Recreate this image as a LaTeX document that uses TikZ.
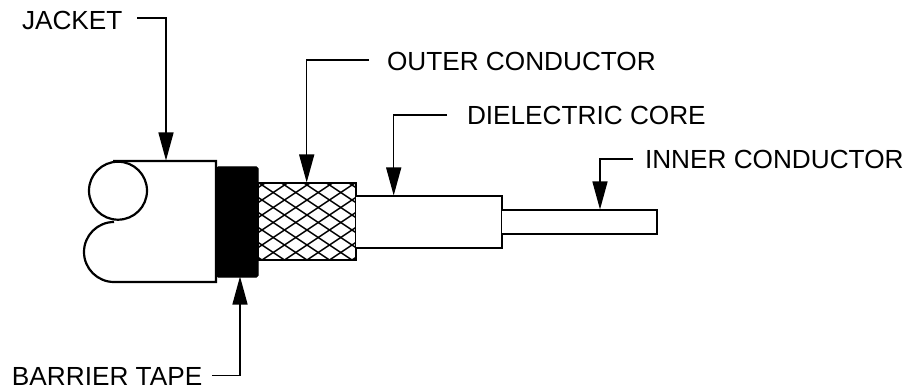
\documentclass[tikz,border=0pt]{standalone}
\usepackage{fontspec}
\setmainfont{Liberation Sans}
\usetikzlibrary{arrows.meta}
\tikzset{
  part/.style={draw=black,line width=2.2pt,line join=miter,fill=white},
  tape/.style={draw=black,fill=black,line width=1pt,rounded corners=1.5pt},
  braid/.style={draw=black,line width=1.5pt},
  leader/.style={draw=black,line width=1.4pt,-{Triangle[length=28pt,width=15pt]},shorten >=-0.5pt},
  lbl/.style={anchor=base west,inner sep=0pt,outer sep=0pt,font=\fontsize{26.2pt}{28pt}\selectfont,text=black},
}
\begin{document}
\begin{tikzpicture}[x=1pt,y=-1pt]
\useasboundingbox (0,0) rectangle (905,390);
% jacket
\draw[part] (114,222) arc[start angle=270,end angle=90,radius=30] -- (216,282) -- (216,161) -- (113,161);
\draw[part] (118,190.7) circle[radius=29];
% tape
\draw[tape] (216.5,167) rectangle (258,277);
% braid
\begin{scope}
\clip (258,183) rectangle (356,260);
\foreach \k in {-12,...,12}{
  \draw[braid] (258,{185+(2/3)*(258-307)+15*\k}) -- (356,{185+(2/3)*(356-307)+15*\k});
  \draw[braid] (258,{185-(2/3)*(258-307)+15*\k}) -- (356,{185-(2/3)*(356-307)+15*\k});
}
\end{scope}
\draw[part,fill=none] (258,183) rectangle (356,260);
% dielectric and inner
\draw[part] (356,196) -- (502,196) -- (502,248) -- (356,248);
\draw[part] (502,210) -- (657,210) -- (657,234) -- (502,234);
% labels
\node[lbl] (jacket) at (22,29.5) {JACKET};
\node[lbl] (outer) at (387,70.5) {OUTER CONDUCTOR};
\node[lbl] (diel) at (467,125) {DIELECTRIC CORE};
\node[lbl] (inner) at (645,168.3) {INNER CONDUCTOR};
\node[lbl] (barrier) at (12,385) {BARRIER TAPE};
% connector ends
\coordinate (jS) at (137,18);   \coordinate (jE) at (166,160);
\coordinate (oS) at (369,60);   \coordinate (oE) at (306.7,182);
\coordinate (dS) at (447,115);  \coordinate (dE) at (393.7,195);
\coordinate (iS) at (633,159);  \coordinate (iE) at (600,209);
\coordinate (bS) at (212,375.7);\coordinate (bE) at (240,277);
\draw[leader] (jS) -| (jE);
\draw[leader] (oS) -| (oE);
\draw[leader] (dS) -| (dE);
\draw[leader] (iS) -| (iE);
\draw[leader] (bS) -| (bE);
\end{tikzpicture}
\end{document}
